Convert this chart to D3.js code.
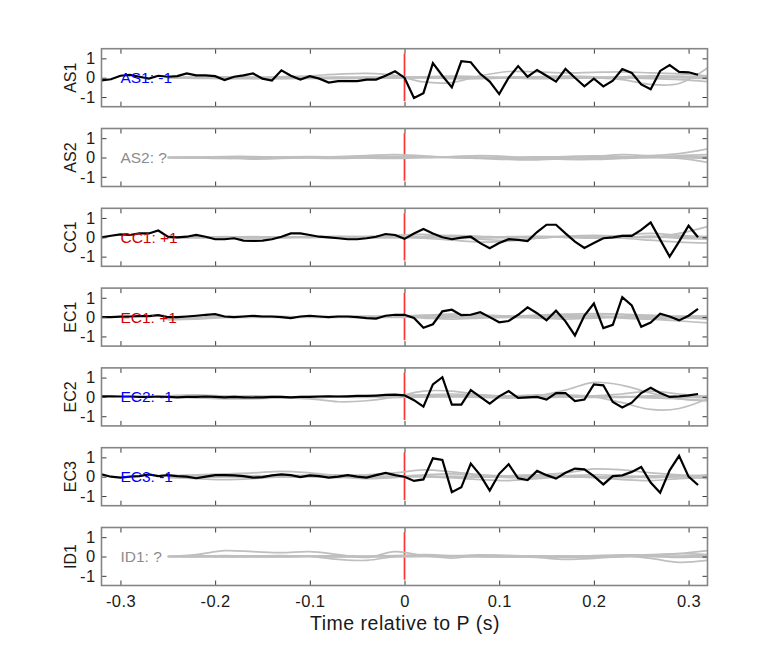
<!DOCTYPE html>
<html>
<head>
<meta charset="utf-8">
<script src="https://cdn.jsdelivr.net/npm/d3@7"></script>
<style>
  body { margin: 0; background: #fff; }
  svg { display: block; }
  text { font-family: "Liberation Sans", Arial, Helvetica, sans-serif; }
</style>
</head>
<body>
<svg id="chart" width="782" height="657"></svg>
<script>
// ---------------- DATA ----------------
const stations = ["AS1", "AS2", "CC1", "EC1", "EC2", "EC3", "ID1"];
const stationLabels = ["AS1: -1", "AS2: ?", "CC1: +1", "EC1: +1", "EC2: -1", "EC3: -1", "ID1: ?"];
const labelColors = ["#0000ff", "#8c8c8c", "#d40000", "#d40000", "#0000ff", "#0000ff", "#8c8c8c"];

const xTicks = [-0.3, -0.2, -0.1, 0, 0.1, 0.2, 0.3];
const xTickLabels = ["-0.3", "-0.2", "-0.1", "0", "0.1", "0.2", "0.3"];
const yTicks = [-1, 0, 1];
const yTickLabels = ["-1", "0", "1"];

// sample times of the black traces (s)
const blackTimes = [-0.32,-0.31,-0.30,-0.29,-0.28,-0.27,-0.26,-0.25,-0.24,-0.23,-0.22,-0.21,-0.20,-0.19,-0.18,-0.17,
  -0.16,-0.15,-0.14,-0.13,-0.12,-0.11,-0.10,-0.09,-0.08,-0.07,-0.06,-0.05,-0.04,-0.03,-0.02,-0.01,
  0.00,0.01,0.02,0.03,0.04,0.05,0.06,0.07,0.08,0.09,0.10,0.11,0.12,0.13,0.14,0.15,
  0.16,0.17,0.18,0.19,0.20,0.21,0.22,0.23,0.24,0.25,0.26,0.27,0.28,0.29,0.30,0.31];

const blackAS1 = [-0.14,-0.08,0.10,0.15,0.05,-0.05,0.10,0.05,0.08,0.22,0.12,0.12,0.08,-0.12,0.05,0.12,
  0.22,-0.05,-0.15,0.38,0.10,-0.10,0.08,-0.05,-0.25,-0.18,-0.18,-0.18,-0.10,-0.10,0.10,0.33,
  0.00,-1.05,-0.80,0.75,0.10,-0.50,0.85,0.80,0.20,-0.20,-0.85,0.00,0.60,0.05,0.40,0.10,
  -0.20,0.45,0.00,-0.45,-0.05,-0.45,-0.15,0.45,0.25,-0.35,-0.60,0.35,0.65,0.30,0.28,0.15];
const blackCC1 = [0.00,0.08,0.15,0.12,0.20,0.20,0.35,0.03,0.00,0.03,0.12,0.03,-0.10,-0.10,-0.05,-0.17,
  -0.19,-0.17,-0.10,0.03,0.20,0.20,0.12,0.03,0.00,-0.05,-0.10,-0.10,-0.05,0.03,0.17,0.12,
  -0.08,0.20,0.43,0.20,0.00,-0.10,-0.02,0.03,-0.30,-0.57,-0.30,-0.10,-0.13,-0.20,0.27,0.65,
  0.65,0.20,-0.22,-0.55,-0.30,-0.05,0.00,0.07,0.07,0.38,0.77,-0.12,-1.00,-0.22,0.60,0.00];
const blackEC1 = [0.00,0.00,0.02,0.03,0.05,0.05,0.10,0.00,0.00,0.03,0.07,0.12,0.15,0.03,0.00,0.03,
  0.07,0.03,0.03,0.00,-0.05,0.03,0.07,0.03,0.00,0.03,0.03,0.00,-0.05,-0.08,0.07,0.12,
  0.12,-0.05,-0.55,-0.37,0.30,0.38,0.10,0.12,0.25,0.00,-0.27,-0.20,0.12,0.50,0.20,-0.17,
  0.33,-0.22,-0.95,0.08,0.70,-0.57,-0.40,1.03,0.60,-0.50,-0.28,0.17,0.03,-0.17,0.07,0.42];
const blackEC2 = [0.03,0.03,0.02,0.02,0.00,0.00,0.02,0.00,-0.02,0.00,0.00,0.02,0.00,-0.02,0.00,-0.02,
  -0.03,-0.02,0.00,0.00,-0.02,0.00,0.00,0.02,0.03,0.02,0.03,0.05,0.05,0.07,0.10,0.12,
  0.08,-0.17,-0.50,0.65,1.02,-0.40,-0.40,0.35,0.00,-0.35,0.03,0.30,-0.05,-0.02,0.00,-0.14,
  0.20,0.20,-0.22,-0.14,0.65,0.60,-0.26,-0.55,-0.30,0.20,0.47,0.20,0.00,0.03,0.08,0.15];
const blackEC3 = [0.12,0.00,-0.05,0.00,0.03,0.12,0.03,0.08,0.03,0.00,-0.08,0.00,0.08,0.08,0.07,0.03,
  -0.05,-0.02,0.07,0.12,0.08,-0.02,0.07,0.03,-0.05,0.00,0.08,0.00,-0.05,0.08,0.20,0.08,
  0.00,-0.22,-0.14,0.95,0.87,-0.80,-0.55,0.68,0.08,-0.72,0.15,0.65,-0.08,-0.17,0.30,0.08,
  -0.10,0.20,0.42,0.38,0.03,-0.40,0.03,0.07,0.25,0.50,-0.30,-0.83,0.33,1.08,0.00,-0.43];
const blackSeries = [blackAS1, null, blackCC1, blackEC1, blackEC2, blackEC3, null];

// sample times of the grey (synthetic) traces (s)
const grayTimes = [-0.25,-0.22,-0.19,-0.16,-0.13,-0.10,-0.07,-0.04,-0.01,0.02,
  0.05,0.08,0.11,0.14,0.17,0.20,0.23,0.26,0.29,0.32];

const grayAS1 = [
  [0,0,-0.03,0,0.05,0.1,0.18,0.22,0.12,-0.22,-0.25,0.1,0.32,0.3,0.25,0.28,0.3,0.25,0.2,0.1],
  [0,0,0,-0.03,-0.05,-0.03,0,0.03,0.05,0.02,-0.05,-0.05,0,0.05,0.05,0,-0.1,-0.35,-0.3,0.5],
  [0,-0.03,-0.05,-0.05,-0.03,0,0.02,0,-0.02,0.05,0.08,0.05,0,-0.05,-0.03,0,0.05,0.1,0.08,0],
  [0,0.03,0.05,0.03,0,-0.03,-0.05,-0.03,0,0,-0.02,0,0.03,0.05,0.08,0.05,0,-0.05,-0.1,-0.2],
  [0,0.02,0,-0.02,0,0.02,0,-0.02,0.02,0,0.02,-0.02,0,0.02,0,-0.02,0.02,0,0.02,0.05],
  [0,-0.02,0.02,0,-0.02,0,0.02,0,-0.02,0.02,0,0.02,-0.02,0,0.02,0,-0.02,0.05,0,-0.05]
];
const grayAS2 = [
  [0,0,-0.03,-0.08,-0.05,0,0.05,0.1,0.15,0.08,0,-0.05,-0.1,-0.12,-0.05,0.05,0.15,0.1,0.2,0.45],
  [0,0.02,0.05,0.05,0.02,-0.02,-0.05,0,0.05,0,0.05,0.1,0.05,-0.05,-0.1,-0.1,-0.05,0,0.1,0.15],
  [0,-0.02,-0.05,-0.02,0.03,0.05,0.03,-0.02,-0.05,0,0.03,0,-0.05,0,0.05,0.08,0.05,0,-0.05,-0.25],
  [0,0,0.02,0,-0.02,0,0.02,0.05,0.05,0.03,0,-0.02,0,0.03,0,-0.03,0,0.05,0.05,0],
  [0,0.02,0,-0.02,0,0.02,0,-0.02,0.02,0,0.02,-0.02,0,0.02,0,-0.02,0.02,0,0.02,0.05],
  [0,-0.02,0.02,0,-0.02,0,0.02,0,-0.02,0.02,0,0.02,-0.02,0,0.02,0,-0.02,0.05,0,-0.05]
];
const grayCC1 = [
  [0,0.02,0.03,0.02,0,0,0.03,0.05,0.1,0.15,0.05,-0.1,-0.15,-0.05,0.05,0.1,0.05,0,0.2,0.55],
  [0,-0.02,-0.03,-0.02,0,0.02,0,-0.02,0,-0.05,-0.15,-0.25,-0.2,-0.05,0.03,0.02,-0.05,-0.15,-0.25,-0.3],
  [0,0.02,0,-0.02,0,0.03,0.05,0.02,0,0.05,0.1,0.05,0,0.03,0.05,0.02,0.1,0.2,0.1,0],
  [0,0,0.02,0.03,0.02,0,-0.02,0,0.03,0,-0.05,-0.03,0.03,0.05,0,-0.05,0,0.05,-0.05,-0.1],
  [0,0.02,0,-0.02,0,0.02,0,-0.02,0.02,0,0.02,-0.02,0,0.02,0,-0.02,0.02,0,0.02,0.05],
  [0,-0.02,0.02,0,-0.02,0,0.02,0,-0.02,0.02,0,0.02,-0.02,0,0.02,0,-0.02,0.05,0,-0.05]
];
const grayEC1 = [
  [-0.1,-0.05,0,0.02,0,0,0.02,0.05,0.05,0.1,0.15,0.12,0.05,0.1,0.15,0.18,0.15,0.1,0,-0.1],
  [-0.15,-0.1,-0.03,0,0,-0.02,0,0,0.02,-0.05,-0.1,-0.05,0,-0.05,-0.1,-0.05,0,-0.1,-0.2,-0.3],
  [0,0,0.02,0.03,0.02,0,-0.02,0,0.05,0.08,0.05,0,0.03,0.08,0.1,0.05,-0.05,-0.1,-0.05,0],
  [0,-0.02,0,0.02,0.02,0,0,0.02,0,0.02,0.05,0.08,0.05,0,0.05,0.1,0.12,0.05,0.05,0.05],
  [0,0.02,0,-0.02,0,0.02,0,-0.02,0.02,0,0.02,-0.02,0,0.02,0,-0.02,0.02,0,0.02,0.05],
  [0,-0.02,0.02,0,-0.02,0,0.02,0,-0.02,0.02,0,0.02,-0.02,0,0.02,0,-0.02,0.05,0,-0.05]
];
const grayEC2 = [
  [0,-0.05,-0.1,-0.1,-0.05,-0.1,-0.25,-0.2,0,0.3,0.3,0.1,0,0.05,0.35,0.75,0.6,0.2,-0.1,-0.2],
  [0.05,0.1,0.05,0,-0.05,-0.05,0,0.05,0.05,0.1,0.05,0,-0.05,0,0.05,0,-0.3,-0.65,-0.6,-0.1],
  [0,0,0.02,0.05,0.02,-0.02,0,0.02,0.05,0.1,0.15,0.1,0.05,0.1,0.1,0.05,0.15,0.3,0.15,0],
  [0,0.02,0,-0.02,0,0.02,0.03,0,-0.02,0,0.05,0.05,0,-0.03,0,0.05,0,-0.05,-0.1,-0.2],
  [0,0.02,0,-0.02,0,0.02,0,-0.02,0.02,0,0.02,-0.02,0,0.02,0,-0.02,0.02,0,0.02,0.05],
  [0,-0.02,0.02,0,-0.02,0,0.02,0,-0.02,0.02,0,0.02,-0.02,0,0.02,0,-0.02,0.05,0,-0.05]
];
const grayEC3 = [
  [0.05,0.1,0.15,0.2,0.28,0.2,0.05,0.1,0.2,0.35,0.25,0.1,0.05,0.1,0.2,0.4,0.35,0.2,0.1,0.05],
  [-0.05,-0.1,-0.15,-0.1,0,0.05,0,-0.1,-0.05,0.05,-0.05,-0.15,-0.2,-0.1,0,-0.05,-0.15,-0.2,-0.1,-0.05],
  [0,0.05,0.08,0.05,0.05,0.08,0.1,0.05,0,0.1,0.15,0.05,-0.05,0,0.05,0.1,0.05,-0.05,0,0.1],
  [0,-0.03,0,0.05,0.03,0,-0.05,-0.02,0.03,0,-0.05,0,0.05,0.1,0.05,0,-0.05,0,0.05,-0.1],
  [0,0.02,0,-0.02,0,0.02,0,-0.02,0.02,0,0.02,-0.02,0,0.02,0,-0.02,0.02,0,0.02,0.05],
  [0,-0.02,0.02,0,-0.02,0,0.02,0,-0.02,0.02,0,0.02,-0.02,0,0.02,0,-0.02,0.05,0,-0.05]
];
const grayID1 = [
  [0,0.1,0.3,0.25,0.2,0.25,0.1,-0.05,0.25,0.05,-0.08,0.05,0.02,-0.05,-0.15,-0.1,0,0.05,0.15,0.3],
  [0,0,0,0.03,0.05,0,-0.15,-0.2,0,0.1,0.05,0.08,0.05,0,-0.05,0,0.05,-0.1,-0.3,-0.2],
  [0,0.02,0.05,0.02,0,0.02,0.05,0.02,0.05,0.05,0,0.03,0.05,0.03,0,0.05,0.08,0.1,0.15,0.1],
  [0,0,-0.02,0,0.02,0,-0.02,0,0.02,0,0.02,0,-0.02,0,0.02,0,0.02,0,-0.05,0],
  [0,0.02,0,-0.02,0,0.02,0,-0.02,0.02,0,0.02,-0.02,0,0.02,0,-0.02,0.02,0,0.02,0.05],
  [0,-0.02,0.02,0,-0.02,0,0.02,0,-0.02,0.02,0,0.02,-0.02,0,0.02,0,-0.02,0.05,0,-0.05]
];
const graySeries = [grayAS1, grayAS2, grayCC1, grayEC1, grayEC2, grayEC3, grayID1];

const markerTime = [0];          // P arrival
const markerRange = [-1.2, 1.25]; // extent of the red marker

const xDomain = [-0.32, 0.32];
const yDomain = [-1.5, 1.5];
const xLabel = "Time relative to P (s)";

// ---------------- LAYOUT ----------------
const svg = d3.select("#chart");
const left = 101.5, plotW = 606, firstTop = 48.7, step = 79.8, plotH = 58;
const FONT = "'Liberation Sans', Arial, Helvetica, sans-serif";

const x = d3.scaleLinear().domain(xDomain).range([0, plotW]);
const y = d3.scaleLinear().domain(yDomain).range([plotH, 0]);

const grayLine = d3.line().x(d => x(d[0])).y(d => y(d[1])).curve(d3.curveCatmullRom.alpha(0.5));
const blackLine = d3.line().x(d => x(d[0])).y(d => y(d[1]));

svg.append("defs").append("clipPath").attr("id", "clip")
  .append("rect").attr("width", plotW).attr("height", plotH);

stations.forEach((st, i) => {
  const g = svg.append("g").attr("transform", `translate(${left},${firstTop + i * step})`);
  const plot = g.append("g").attr("clip-path", "url(#clip)");

  // red P marker
  plot.selectAll(".marker").data(markerTime).join("line")
    .attr("x1", d => x(d)).attr("x2", d => x(d))
    .attr("y1", y(markerRange[1])).attr("y2", y(markerRange[0]))
    .attr("stroke", "#ff3333").attr("stroke-width", 1.7);

  // grey traces
  graySeries[i].forEach(vals => {
    plot.append("path")
      .attr("d", grayLine(grayTimes.map((t, k) => [t, vals[k]])))
      .attr("fill", "none").attr("stroke", "#bfbfbf").attr("stroke-width", 1.7);
  });

  // black trace
  if (blackSeries[i]) {
    plot.append("path")
      .attr("d", blackLine(blackTimes.map((t, k) => [t, blackSeries[i][k]])))
      .attr("fill", "none").attr("stroke", "#000").attr("stroke-width", 2.2)
      .attr("stroke-linejoin", "miter");
  }

  // station label
  g.append("text")
    .attr("x", x(-0.3)).attr("y", y(0))
    .attr("dy", "0.35em")
    .attr("font-size", 15.5)
    .attr("fill", labelColors[i])
    .text(stationLabels[i]);

  // axes
  const isLast = i === stations.length - 1;
  const axB = d3.axisBottom(x).tickValues(xTicks).tickSize(-5).tickPadding(10)
    .tickFormat((d, k) => isLast ? xTickLabels[k] : "");
  const axT = d3.axisTop(x).tickValues(xTicks).tickSize(-5).tickFormat("");
  const axL = d3.axisLeft(y).tickValues(yTicks).tickSize(-5).tickPadding(6)
    .tickFormat((d, k) => yTickLabels[k]);
  const axR = d3.axisRight(y).tickValues(yTicks).tickSize(-5).tickFormat("");

  const styleAxis = sel => {
    sel.select(".domain").remove();
    sel.selectAll(".tick line").attr("stroke", "#3c3c3c").attr("stroke-width", 1);
    sel.selectAll(".tick text").attr("fill", "#1a1a1a").attr("font-size", 16.5)
      .attr("letter-spacing", "0.4px")
      .attr("font-family", FONT);
  };
  g.append("g").attr("transform", `translate(0,${plotH})`).call(axB).call(styleAxis);
  g.append("g").call(axT).call(styleAxis);
  g.append("g").call(axL).call(styleAxis);
  g.append("g").attr("transform", `translate(${plotW},0)`).call(axR).call(styleAxis);

  // frame
  g.append("rect").attr("width", plotW).attr("height", plotH)
    .attr("fill", "none").attr("stroke", "#858585").attr("stroke-width", 1.6);

  // y label
  g.append("text")
    .attr("transform", `translate(${76 - left},${plotH / 2}) rotate(-90)`)
    .attr("text-anchor", "middle")
    .attr("font-size", 16).attr("fill", "#1a1a1a")
    .text(st);
});

// x axis label
svg.append("text")
  .attr("x", left + plotW / 2 + 0.5).attr("y", 630)
  .attr("text-anchor", "middle")
  .attr("font-size", 19.5).attr("fill", "#1a1a1a")
  .attr("letter-spacing", "0.5px")
  .text(xLabel);
</script>
</body>
</html>
